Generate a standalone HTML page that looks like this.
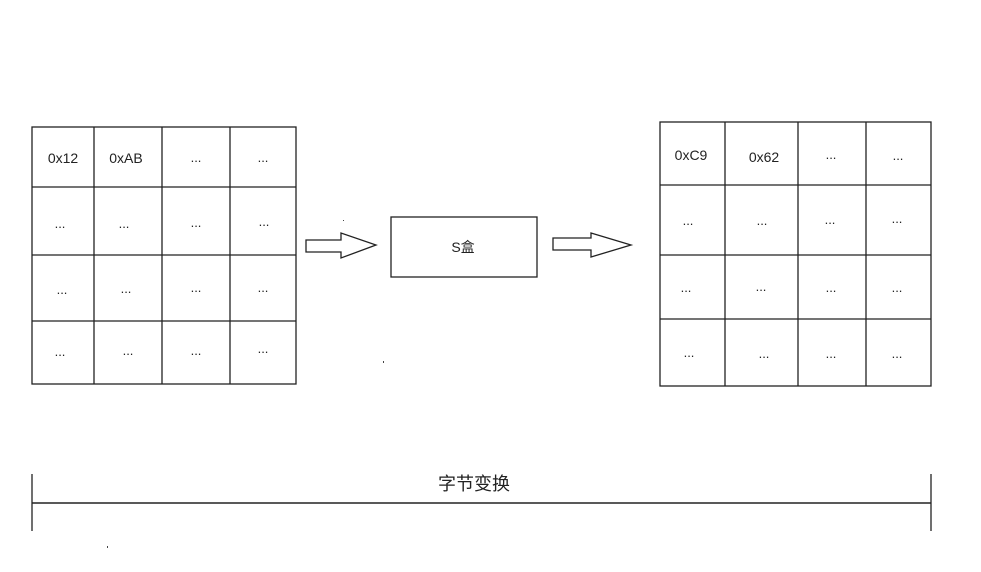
<!DOCTYPE html>
<html><head><meta charset="utf-8"><style>
html,body{margin:0;padding:0;background:#fff;}
svg{display:block}
text{font-family:"Liberation Sans","Noto Sans CJK SC",sans-serif;fill:#222}
</style></head><body>
<svg width="981" height="572" viewBox="0 0 981 572" xmlns="http://www.w3.org/2000/svg">
<g stroke="#222" stroke-width="1.3" fill="none">
<rect x="32" y="127" width="264" height="257"/>
<line x1="94" y1="127" x2="94" y2="384"/>
<line x1="162" y1="127" x2="162" y2="384"/>
<line x1="230" y1="127" x2="230" y2="384"/>
<line x1="32" y1="187" x2="296" y2="187"/>
<line x1="32" y1="255" x2="296" y2="255"/>
<line x1="32" y1="321" x2="296" y2="321"/>
<rect x="660" y="122" width="271" height="264"/>
<line x1="725" y1="122" x2="725" y2="386"/>
<line x1="798" y1="122" x2="798" y2="386"/>
<line x1="866" y1="122" x2="866" y2="386"/>
<line x1="660" y1="185" x2="931" y2="185"/>
<line x1="660" y1="255" x2="931" y2="255"/>
<line x1="660" y1="319" x2="931" y2="319"/>
<rect x="391" y="217" width="146" height="60"/>
<polygon points="306,240 341,240 341,233 376,245 341,258 341,252 306,252"/>
<polygon points="553,238 591,238 591,233 631,245 591,257 591,250 553,250"/>
<line x1="32" y1="503" x2="931" y2="503" stroke-width="1.6"/>
<line x1="32" y1="474" x2="32" y2="531"/>
<line x1="931" y1="474" x2="931" y2="531"/>
</g>
<g fill="#444">
<rect x="343" y="220" width="1" height="1"/>
<rect x="383" y="361" width="1" height="2"/>
<rect x="107" y="546" width="1" height="2"/>
</g>
<g font-size="13" text-anchor="middle">
<text x="63" y="163" font-size="14">0x12</text>
<text x="126" y="163" font-size="14">0xAB</text>
<text x="196" y="162">...</text>
<text x="263" y="162">...</text>
<text x="60" y="228">...</text>
<text x="124" y="228">...</text>
<text x="196" y="227">...</text>
<text x="264" y="226">...</text>
<text x="62" y="294">...</text>
<text x="126" y="293">...</text>
<text x="196" y="292">...</text>
<text x="263" y="292">...</text>
<text x="60" y="356">...</text>
<text x="128" y="355">...</text>
<text x="196" y="355">...</text>
<text x="263" y="353">...</text>

<text x="691" y="160" font-size="14">0xC9</text>
<text x="764" y="162" font-size="14">0x62</text>
<text x="831" y="159">...</text>
<text x="898" y="160">...</text>
<text x="688" y="225">...</text>
<text x="762" y="225">...</text>
<text x="830" y="224">...</text>
<text x="897" y="223">...</text>
<text x="686" y="292">...</text>
<text x="761" y="291">...</text>
<text x="831" y="292">...</text>
<text x="897" y="292">...</text>
<text x="689" y="357">...</text>
<text x="764" y="358">...</text>
<text x="831" y="358">...</text>
<text x="897" y="358">...</text>

<text x="463" y="252" font-size="14">S盒</text>
<text x="474" y="490" font-size="18">字节变换</text>
</g>
</svg>
</body></html>
